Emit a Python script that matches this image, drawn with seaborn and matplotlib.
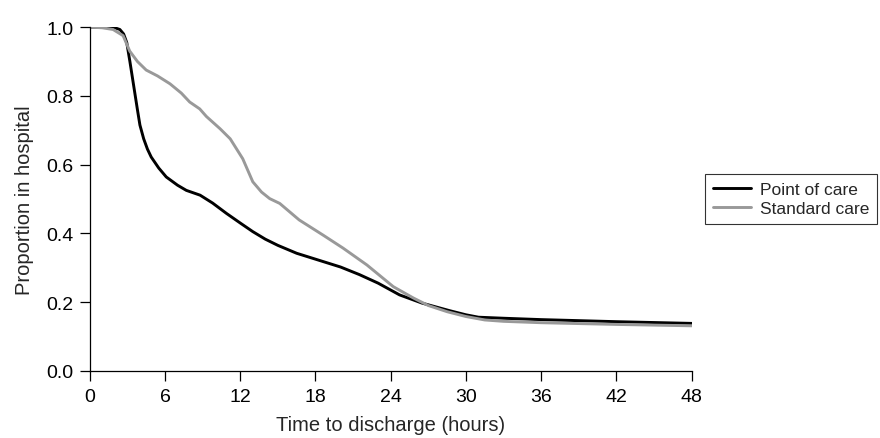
import numpy as np
import pandas as pd
import matplotlib.pyplot as plt
import seaborn as sns

# values
poc_hours = [0, 1, 2, 2.4, 2.7, 2.95, 3.2, 3.5, 3.8, 4.0, 4.3, 4.6, 4.9, 5.5, 6.1, 7.0, 7.7, 8.8, 9.8, 10.9,
             12.0, 13.0, 14.0, 15.0, 16.5, 18.6, 20.0, 21.5, 23.0, 24.7, 26.5, 28.7, 30.0, 31.0, 33.0, 36.0,
             42.0, 48.0]
poc_prop = [1.0, 1.0, 0.998, 0.993, 0.98, 0.955, 0.9, 0.83, 0.76, 0.715, 0.675, 0.645, 0.622, 0.59, 0.564,
            0.54, 0.525, 0.511, 0.488, 0.458, 0.43, 0.405, 0.383, 0.365, 0.342, 0.318, 0.302, 0.28, 0.255,
            0.221, 0.197, 0.175, 0.163, 0.156, 0.153, 0.149, 0.143, 0.138]

std_hours = [0, 1, 1.86, 2.66, 3.19, 3.8, 4.5, 5.4, 6.4, 7.3, 7.97, 8.77, 9.3, 10.4, 11.2, 12.2, 13.0, 13.7,
             14.35, 15.15, 16.7, 18.6, 20.2, 22.1, 24.2, 25.8, 27.0, 28.5, 30.0, 31.5, 33.0, 36.0, 42.0, 48.0]
std_prop = [1.0, 0.998, 0.993, 0.975, 0.93, 0.9, 0.875, 0.858, 0.835, 0.808, 0.782, 0.762, 0.74, 0.704, 0.675,
            0.617, 0.55, 0.52, 0.501, 0.487, 0.439, 0.395, 0.357, 0.308, 0.245, 0.212, 0.19, 0.172, 0.158, 0.148,
            0.144, 0.14, 0.135, 0.131]

df = pd.concat([
    pd.DataFrame({'hours': poc_hours, 'prop': poc_prop, 'group': 'Point of care'}),
    pd.DataFrame({'hours': std_hours, 'prop': std_prop, 'group': 'Standard care'}),
])

sns.set_style('ticks')
plt.rcParams['font.family'] = ['Liberation Sans', 'DejaVu Sans']

fig = plt.figure(figsize=(8.8, 4.39), dpi=100)
ax = fig.add_axes([0.102, 0.153, 0.684, 0.783])

sns.lineplot(data=df, x='hours', y='prop', hue='group', sort=False,
             palette={'Point of care': '#000000', 'Standard care': '#999999'},
             linewidth=2.1, ax=ax)

ax.set_xlim(0, 48)
ax.set_ylim(0, 1.0)
ax.set_xticks(range(0, 49, 6))
ax.set_yticks([0, 0.2, 0.4, 0.6, 0.8, 1.0])
ax.set_yticklabels(['0.0', '0.2', '0.4', '0.6', '0.8', '1.0'])
ax.tick_params(labelsize=14, width=0.9, length=7.5, color='black', labelcolor='black')
ax.tick_params(axis='y', pad=4)
ax.tick_params(axis='x', pad=5)
ax.set_xlabel('Time to discharge (hours)', fontsize=14.5, labelpad=7)
ax.set_ylabel('Proportion in hospital', fontsize=14.5, labelpad=9)
sns.despine(ax=ax)
for s in ['left', 'bottom']:
    ax.spines[s].set_linewidth(0.9)
    ax.spines[s].set_color('black')

leg = ax.legend(loc='center left', bbox_to_anchor=(1.022, 0.5), frameon=True, fancybox=False,
                fontsize=12.5, handlelength=2.2, borderpad=0.45, labelspacing=0.25, handletextpad=0.5,
                borderaxespad=0)
leg.get_frame().set_edgecolor('black')
leg.get_frame().set_linewidth(0.8)
for line in leg.get_lines():
    line.set_linewidth(2.1)

fig.savefig('out.png', dpi=100)
